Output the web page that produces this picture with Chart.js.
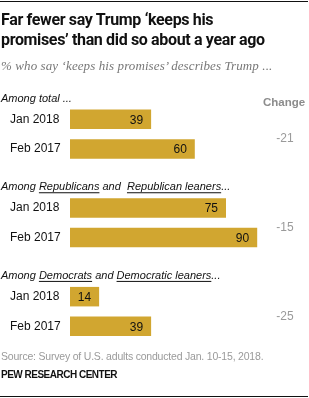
<!DOCTYPE html>
<html>
<head>
<meta charset="utf-8">
<script src="https://cdn.jsdelivr.net/npm/chart.js@4/dist/chart.umd.min.js"></script>
<style>
  html, body { margin: 0; padding: 0; background: #fff; }
  #wrap { position: relative; width: 309px; height: 398px; overflow: hidden; }
  #chartBox { position: absolute; left: 0; top: 0; width: 309px; height: 398px; }
  .rule { position: absolute; left: 0; width: 308px; height: 1px; background: #111; }
  .txt { position: absolute; left: 1px; white-space: nowrap; }
  #title { top: 10px; font: bold 16px Roboto, "Liberation Sans", sans-serif; line-height: 20px; color: #111; letter-spacing: -0.35px; }
  #subtitle { top: 58px; font: italic 13px "Liberation Serif", serif; color: #777; letter-spacing: 0.1px; }
  #source { top: 350px; font: 10.5px "Liberation Sans", sans-serif; color: #9a9a9a; letter-spacing: -0.2px; }
  #credit { top: 369px; font: bold 10px "Liberation Sans", sans-serif; color: #111; letter-spacing: -0.5px; }
</style>
</head>
<body>
<div id="wrap">
  <div class="rule" style="top:1px"></div>
  <div id="chartBox"><canvas id="promisesChart"></canvas></div>
  <div class="txt" id="title">Far fewer say Trump ‘keeps his<br>promises’ than did so about a year ago</div>
  <div class="txt" id="subtitle">% who say ‘keeps his promises’ describes Trump ...</div>
  <div class="txt" id="source">Source: Survey of U.S. adults conducted Jan. 10-15, 2018.</div>
  <div class="txt" id="credit">PEW RESEARCH CENTER</div>
  <div class="rule" style="top:396px"></div>
</div>
<script>
// Data
const groupHeaders = [
    [{ t: 'Among total ...' }],
    [{ t: 'Among ' }, { t: 'Republicans', u: true }, { t: ' and  ' }, { t: 'Republican leaners', u: true }, { t: '...' }],
    [{ t: 'Among ' }, { t: 'Democrats', u: true }, { t: ' and ' }, { t: 'Democratic leaners', u: true }, { t: '...' }]
];
const periods = ['Jan 2018', 'Feb 2017'];
const jan2018 = [39, 75, 14];
const feb2017 = [60, 90, 39];
const changeLabels = ['-21', '-15', '-25'];

// Each group takes three rows: header row, then one row per period
const rowLabels = [];
const rowValues = [];
for (let g = 0; g < jan2018.length; g++) {
    rowLabels.push('', periods[0], periods[1]);
    rowValues.push(null, jan2018[g], feb2017[g]);
}

const labelFont = '"Liberation Sans", Arial, sans-serif';

// Draws group headers, value labels and the change column
const annotations = {
    id: 'annotations',
    afterDatasetsDraw(chart) {
        const ctx = chart.ctx;
        const meta = chart.getDatasetMeta(0);
        ctx.save();

        // values inside the bar ends
        ctx.font = '12px ' + labelFont;
        ctx.fillStyle = '#111';
        ctx.textAlign = 'right';
        ctx.textBaseline = 'middle';
        meta.data.forEach((bar, i) => {
            if (rowValues[i] == null) return;
            ctx.fillText(rowValues[i], bar.x - 8, bar.y + 1);
        });

        // group headers with underlined parts
        ctx.font = 'italic 11px ' + labelFont;
        ctx.textAlign = 'left';
        ctx.textBaseline = 'alphabetic';
        groupHeaders.forEach((parts, g) => {
            const janBar = meta.data[g * 3 + 1];
            const base = janBar.y - janBar.height / 2 - 8;
            let x = 1;
            parts.forEach(p => {
                const w = ctx.measureText(p.t).width;
                ctx.fillStyle = '#111';
                ctx.fillText(p.t, x, base);
                if (p.u) ctx.fillRect(x, base + 2, w, 1);
                x += w;
            });
        });

        // change column
        ctx.textAlign = 'center';
        ctx.fillStyle = '#8c8c8c';
        ctx.font = 'bold 11.5px ' + labelFont;
        const firstTop = meta.data[1].y - meta.data[1].height / 2;
        ctx.fillText('Change', 284, firstTop - 4);
        ctx.font = '12px ' + labelFont;
        ctx.fillStyle = '#9a9a9a';
        ctx.textBaseline = 'middle';
        changeLabels.forEach((c, g) => {
            const mid = (meta.data[g * 3 + 1].y + meta.data[g * 3 + 2].y) / 2;
            ctx.fillText(c, 285, mid + 5);
        });
        ctx.restore();
    }
};

new Chart(document.getElementById('promisesChart'), {
    type: 'bar',
    data: {
        labels: rowLabels,
        datasets: [{
            data: rowValues,
            backgroundColor: '#D1A630',
            barPercentage: 0.66,
            categoryPercentage: 1
        }]
    },
    options: {
        indexAxis: 'y',
        responsive: true,
        maintainAspectRatio: false,
        animation: false,
        events: [],
        layout: { padding: { left: 10, right: 31, top: 75, bottom: 57 } },
        plugins: { legend: { display: false }, tooltip: { enabled: false } },
        scales: {
            x: { display: false, min: 0, max: 100 },
            y: {
                grid: { display: false, drawTicks: false },
                border: { display: false },
                ticks: {
                    crossAlign: 'far',
                    padding: 0,
                    color: '#111',
                    font: { family: labelFont, size: 12 }
                },
                afterFit(scale) { scale.width = 60; }
            }
        }
    },
    plugins: [annotations]
});
</script>
</body>
</html>
